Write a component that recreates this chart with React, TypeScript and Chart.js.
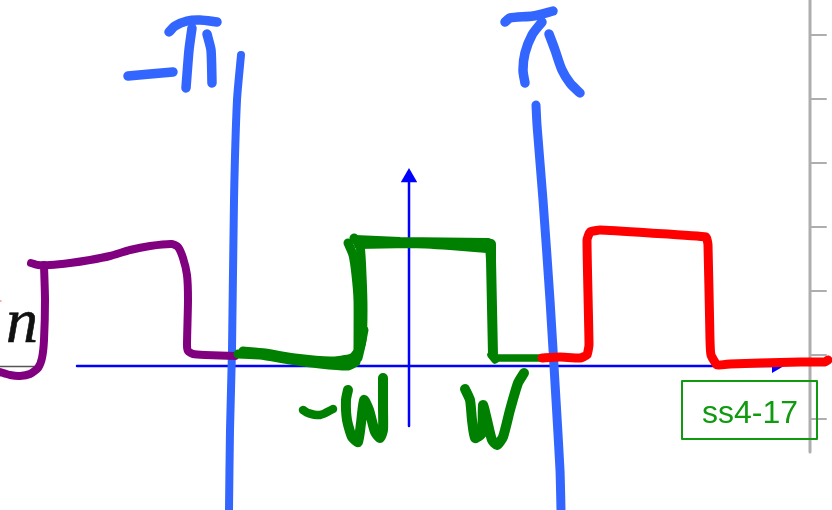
import React, { useEffect, useRef } from "react";
import { Chart, registerables } from "chart.js";

Chart.register(...registerables);

type Pt = number[];

const labelText = "ss4-17";
const fractionLetter = "n";

const rulerLine: Pt[] = [[810, 0], [810, 452]];
const rulerTickRows = [35, 99, 163, 227, 291, 355, 419];
const labelBox: Pt[] = [[682, 381], [817, 381], [817, 439], [682, 439], [682, 381]];
const fractionBar: Pt[] = [[0, 366.5], [37, 366.5]];
const pinkSpeck: Pt[] = [[0, 301], [1, 301]];

const axisHorizontal: Pt[] = [[77, 366], [778, 366]];
const axisVertical: Pt[] = [[409, 178], [409, 426]];
const arrowUp: Pt[] = [[409, 177.5]];
const arrowRight: Pt[] = [[776, 366]];

const leftBoundary: Pt[] = [[241, 55], [237, 100], [234, 200], [232, 350], [230, 430], [229, 510]];
const rightBoundary: Pt[] = [[536, 105], [537, 125], [543, 200], [550, 300], [556, 400], [560, 470], [561, 510]];
const minusDash: Pt[] = [[128, 76], [150, 74], [173, 72]];
const piOneTop: Pt[] = [[169, 32], [175, 26], [187, 21], [200, 20], [217, 22]];
const piOneLeft: Pt[] = [[192, 28], [189, 50], [186, 88]];
const piOneRight: Pt[] = [[207, 34], [211, 50], [212, 83]];
const piTwoTop: Pt[] = [[505, 22], [510, 18], [533, 16], [553, 11]];
const piTwoLeft: Pt[] = [[542, 22], [532, 35], [525, 53], [523, 70], [525, 83]];
const piTwoRight: Pt[] = [[549, 34], [555, 50], [562, 70], [570, 83], [580, 93]];

const purpleLow: Pt[] = [[0, 372], [10, 375], [20, 376], [30, 374], [38, 368], [42, 358], [44, 340], [45, 300], [44, 265]];
const purpleHigh: Pt[] = [[31, 263], [38, 265], [50, 265], [70, 263], [90, 260], [110, 256], [130, 250], [150, 246], [172, 244], [178, 247], [183, 258], [187, 275], [188, 300], [187, 345], [188, 351], [193, 354], [205, 355], [235, 356]];

const greenFloorA: Pt[] = [[238, 354], [260, 355], [290, 360], [320, 364], [348, 366], [356, 362]];
const greenFloorB: Pt[] = [[243, 351], [265, 353], [295, 358], [330, 361], [352, 358], [360, 348], [364, 330]];
const greenRiseA: Pt[] = [[348, 243], [353, 255], [356, 275], [358, 300], [358, 350]];
const greenRiseB: Pt[] = [[354, 238], [360, 246], [362, 275], [363, 310], [362, 340], [358, 358]];
const greenTopA: Pt[] = [[355, 239], [400, 241], [488, 242]];
const greenTopB: Pt[] = [[358, 245], [410, 244], [450, 246], [487, 249]];
const greenFall: Pt[] = [[490, 244], [491, 260], [493, 355]];
const greenTail: Pt[] = [[491, 355], [495, 360], [498, 358], [540, 358]];
const minusW: Pt[] = [[303, 410], [308, 413], [320, 415], [333, 409]];
const leftW: Pt[] = [[348, 390], [346, 400], [347, 420], [352, 437], [358, 442], [361, 423], [364, 400], [369, 410], [375, 432], [380, 438], [383, 430], [383, 407], [383, 378]];
const rightW: Pt[] = [[465, 389], [470, 400], [472, 420], [475, 438], [482, 433], [483, 405], [487, 420], [492, 440], [497, 445], [503, 437], [510, 410], [518, 383], [524, 373]];

const redPulse: Pt[] = [[542, 358], [560, 357], [580, 358], [587, 355], [589, 345], [587, 240], [590, 232], [600, 230], [650, 233], [706, 237], [708, 245], [710, 340], [711, 355], [717, 365], [730, 364], [760, 363], [800, 362], [825, 362], [828, 360]];

const GREY = "#aeaeae";
const AXIS = "#0000ff";
const BLUE = "#3366ff";
const PURPLE = "#800080";
const GREEN = "#008000";
const RED = "#ff0000";
const LABEL = "#109a10";

const App = () => {
  const ref = useRef<HTMLCanvasElement>(null);

  useEffect(() => {
    const stroke = (pts: Pt[], color: string, width: number, tension = 0) => ({
      data: pts.map(([x, y]) => ({ x, y })),
      showLine: true,
      borderColor: color,
      borderWidth: width,
      borderCapStyle: "round",
      borderJoinStyle: "round",
      pointRadius: 0,
      tension,
      fill: false,
    });
    const marker = (pts: Pt[], radius: number, rotation: number) => ({
      data: pts.map(([x, y]) => ({ x, y })),
      showLine: false,
      pointStyle: "triangle",
      pointRadius: radius,
      pointRotation: rotation,
      pointBackgroundColor: AXIS,
      pointBorderColor: AXIS,
      pointBorderWidth: 0,
    });

    const bottomToTop: any[] = [
      stroke(rulerLine, GREY, 3),
      ...rulerTickRows.map((y) => stroke([[810, y], [826, y]], GREY, 2)),
      stroke(labelBox, LABEL, 2),
      stroke(fractionBar, "#555555", 1.5),
      stroke(pinkSpeck, "#ff9090", 1.5),
      stroke(axisHorizontal, AXIS, 2.5),
      stroke(axisVertical, AXIS, 2.5),
      marker(arrowUp, 9.5, 0),
      marker(arrowRight, 8, 90),
      stroke(leftBoundary, BLUE, 8, 0.2),
      stroke(rightBoundary, BLUE, 9, 0.2),
      stroke(minusDash, BLUE, 9.5, 0.2),
      stroke(piOneTop, BLUE, 9.5, 0.3),
      stroke(piOneLeft, BLUE, 9.5, 0.2),
      stroke(piOneRight, BLUE, 9.5, 0.2),
      stroke(piTwoTop, BLUE, 9.5, 0.2),
      stroke(piTwoLeft, BLUE, 9.5, 0.3),
      stroke(piTwoRight, BLUE, 9.5, 0.3),
      stroke(purpleLow, PURPLE, 8, 0.2),
      stroke(purpleHigh, PURPLE, 8, 0.2),
      stroke(greenFloorA, GREEN, 9, 0.2),
      stroke(greenFloorB, GREEN, 9, 0.2),
      stroke(greenRiseA, GREEN, 9, 0.2),
      stroke(greenRiseB, GREEN, 9, 0.2),
      stroke(greenTopA, GREEN, 8, 0.1),
      stroke(greenTopB, GREEN, 8, 0.1),
      stroke(greenFall, GREEN, 10, 0),
      stroke(greenTail, GREEN, 7.5, 0),
      stroke(minusW, GREEN, 8.5, 0.3),
      stroke(leftW, GREEN, 10, 0.2),
      stroke(rightW, GREEN, 10, 0.2),
      stroke(redPulse, RED, 9, 0.12),
    ];

    const textLayer = {
      id: "textLayer",
      afterDatasetsDraw(chart: any) {
        const { ctx, scales } = chart;
        ctx.save();
        ctx.textAlign = "left";
        ctx.textBaseline = "alphabetic";
        ctx.fillStyle = "#111111";
        ctx.strokeStyle = "#111111";
        ctx.lineWidth = 0.6;
        ctx.font = "italic 64px 'Liberation Serif'";
        ctx.fillText(fractionLetter, scales.x.getPixelForValue(6), scales.y.getPixelForValue(342));
        ctx.strokeText(fractionLetter, scales.x.getPixelForValue(6), scales.y.getPixelForValue(342));
        ctx.fillStyle = LABEL;
        ctx.font = "32px 'Liberation Sans'";
        ctx.fillText(labelText, scales.x.getPixelForValue(702), scales.y.getPixelForValue(423));
        ctx.restore();
      },
    };

    const chart = new Chart(ref.current as HTMLCanvasElement, {
      type: "scatter",
      data: { datasets: bottomToTop.reverse() },
      plugins: [textLayer],
      options: {
        animation: false,
        responsive: false,
        maintainAspectRatio: false,
        layout: { padding: 0, autoPadding: false },
        plugins: { legend: { display: false }, tooltip: { enabled: false }, title: { display: false } },
        scales: {
          x: { type: "linear", min: 0, max: 832, display: false },
          y: { type: "linear", min: 0, max: 510, reverse: true, display: false },
        },
      },
    } as any);
    return () => chart.destroy();
  }, []);

  return (
    <canvas
      ref={ref}
      width={832}
      height={510}
      style={{ position: "absolute", left: 0, top: 0, width: 832, height: 510, display: "block", background: "#ffffff" }}
    />
  );
};

export default App;
